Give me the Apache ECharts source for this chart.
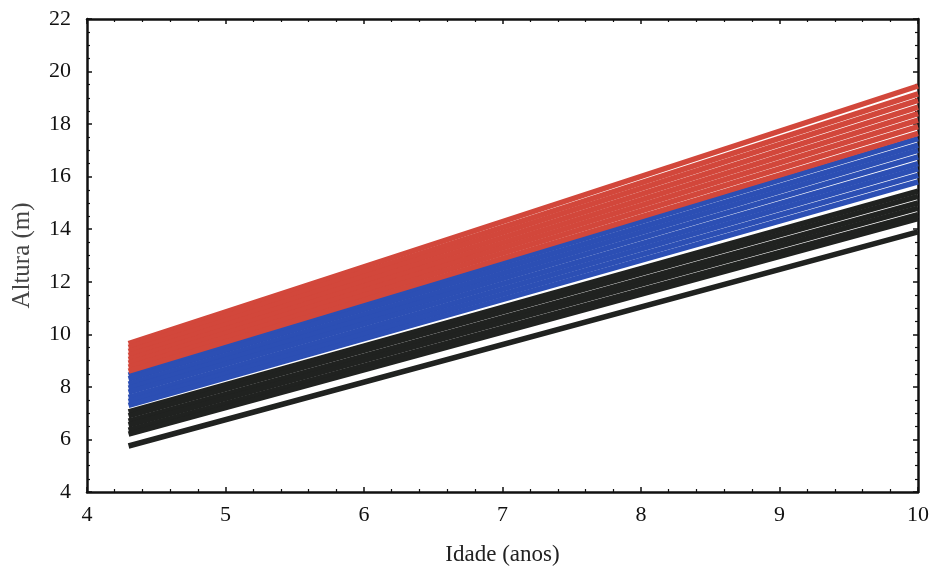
<!DOCTYPE html>
<html>
<head>
<meta charset="utf-8">
<script src="https://cdn.jsdelivr.net/npm/echarts@6/dist/echarts.min.js"></script>
<style>
  html, body { margin: 0; padding: 0; background: #fff; }
  #chart { width: 937px; height: 571px; }
</style>
</head>
<body>
<div id="chart"></div>
<script>
  // idade inicial e final das retas
  const xStart = 4.3;
  const xEnd = 10;

  // alturas (m) no início e no fim de cada reta, por grupo
  const redStart   = [9.65, 9.5, 9.35, 9.2, 9.05, 8.9, 8.75, 8.6];
  const redEnd     = [19.45, 19.15, 18.9, 18.65, 18.4, 18.15, 17.9, 17.65];
  const blueStart  = [8.45, 8.3, 8.1, 7.95, 7.8, 7.6, 7.45, 7.3];
  const blueEnd    = [17.45, 17.2, 17.0, 16.75, 16.5, 16.3, 16.05, 15.8];
  const blackStart = [7.05, 6.9, 6.7, 6.55, 6.35, 6.2, 5.75];
  const blackEnd   = [15.45, 15.25, 15.0, 14.8, 14.55, 14.4, 13.9];

  const xTicks = [4, 5, 6, 7, 8, 9, 10];
  const yTicks = [4, 6, 8, 10, 12, 14, 16, 18, 20, 22];

  const font = 'Liberation Serif';

  function makeLines(starts, ends, color) {
    return starts.map(function (s, i) {
      return {
        type: 'line',
        data: [[xStart, s], [xEnd, ends[i]]],
        symbol: 'none',
        silent: true,
        lineStyle: { color: color, width: 5.5 }
      };
    });
  }

  const series = []
    .concat(makeLines(blackStart, blackEnd, '#202220'))
    .concat(makeLines(blueStart, blueEnd, '#2c4fb4'))
    .concat(makeLines(redStart, redEnd, '#d2473b'));

  const axisLine = { show: true, onZero: false, lineStyle: { color: '#111', width: 2.5 } };
  const tick = { show: true, inside: true, length: 5, lineStyle: { color: '#111', width: 1.5 } };
  const minor = { show: true, length: 3, lineStyle: { color: '#111', width: 1.2 } };

  let chart = echarts.init(document.getElementById('chart'));
  chart.setOption({
    animation: false,
    grid: { left: 87, right: 19, top: 19, bottom: 77 },
    xAxis: [
      {
        type: 'value', min: 4, max: 10, interval: 1,
        name: 'Idade (anos)', nameLocation: 'middle', nameGap: 51,
        nameTextStyle: { fontFamily: font, fontSize: 23, color: '#222' },
        axisLine: axisLine,
        axisTick: tick,
        minorTick: Object.assign({ splitNumber: 5 }, minor),
        splitLine: { show: false },
        axisLabel: {
          fontFamily: font, fontSize: 22, color: '#111', margin: 12,
          formatter: function (v) { return xTicks.indexOf(v) >= 0 ? String(v) : ''; }
        }
      },
      {
        type: 'value', min: 4, max: 10, interval: 1, position: 'top',
        axisLine: axisLine, axisTick: tick,
        minorTick: Object.assign({ splitNumber: 5 }, minor),
        splitLine: { show: false }, axisLabel: { show: false }
      }
    ],
    yAxis: [
      {
        type: 'value', min: 4, max: 22, interval: 2,
        name: 'Altura (m)', nameLocation: 'middle', nameGap: 52,
        nameTextStyle: { fontFamily: font, fontSize: 25, color: '#444' },
        axisLine: axisLine,
        axisTick: tick,
        minorTick: Object.assign({ splitNumber: 4 }, minor),
        splitLine: { show: false },
        axisLabel: {
          fontFamily: font, fontSize: 22, color: '#111', margin: 16,
          formatter: function (v) { return yTicks.indexOf(v) >= 0 ? String(v) : ''; }
        }
      },
      {
        type: 'value', min: 4, max: 22, interval: 2, position: 'right',
        axisLine: axisLine, axisTick: tick,
        minorTick: Object.assign({ splitNumber: 4 }, minor),
        splitLine: { show: false }, axisLabel: { show: false }
      }
    ],
    series: series
  });
</script>
</body>
</html>
